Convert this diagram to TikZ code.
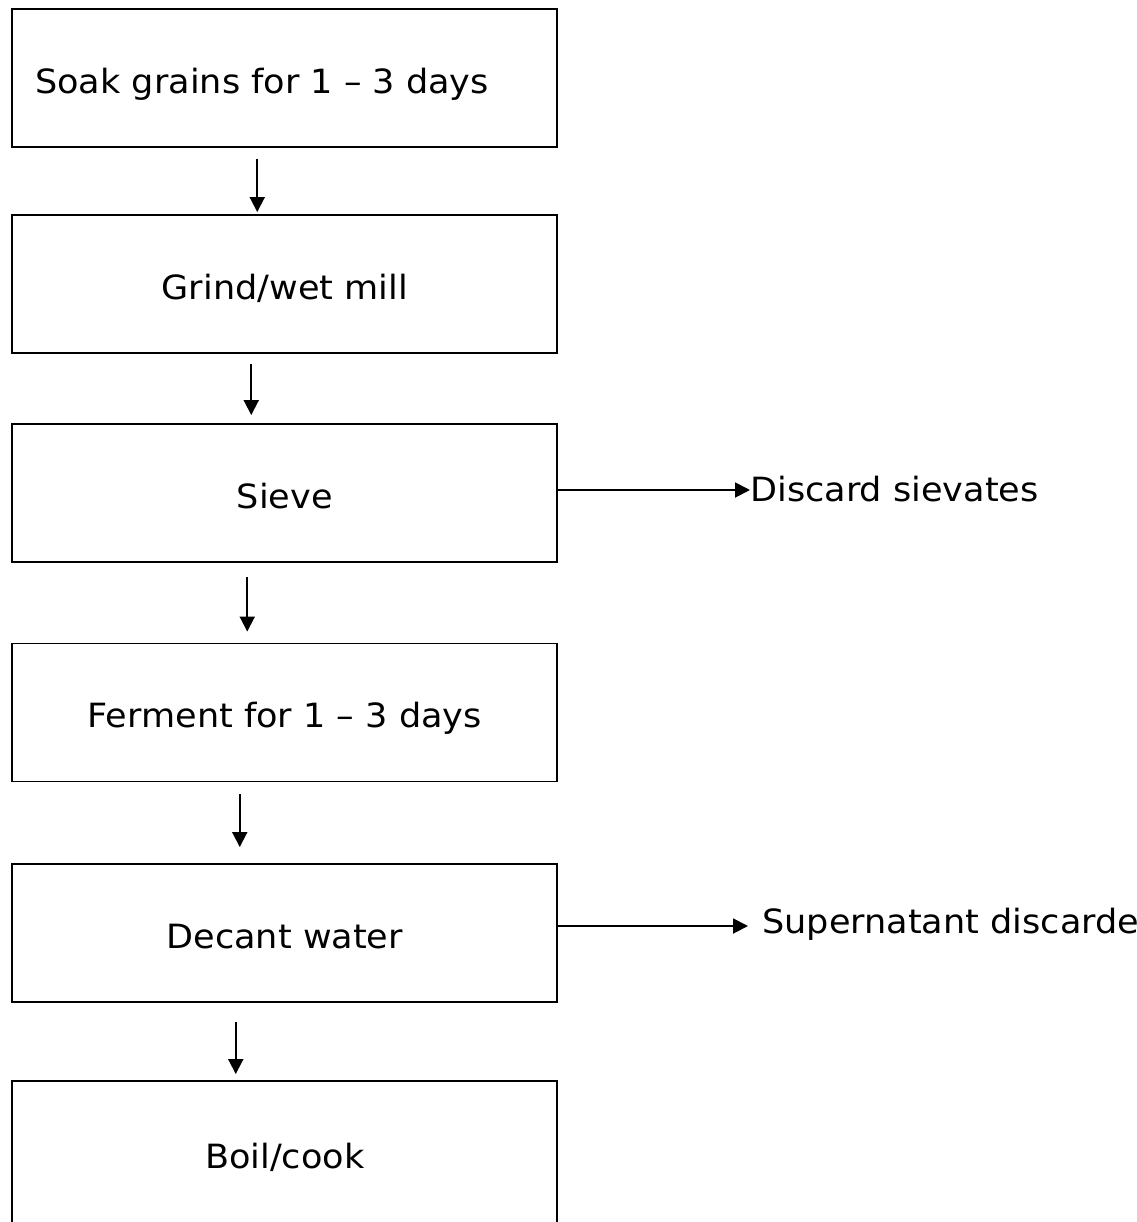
\documentclass[tikz,border=0pt]{standalone}
\usepackage{fontspec}
\setmainfont{DejaVu Sans}[FakeStretch=1.05]
\usepackage{tikz}
\usetikzlibrary{arrows.meta}
\tikzset{stage/.style={draw,line width=1.1pt,minimum width=10.9cm,minimum height=2.76cm,
  inner sep=0pt,text height=.68cm,text depth=.08cm},
flow/.style={-{Triangle[length=3mm,width=3mm]},line width=1.1pt},
sidenote/.style={anchor=base west,inner sep=0pt}}

\begin{document}
\begin{tikzpicture}[font=\fontsize{19}{23}\selectfont]
\useasboundingbox (0,0) rectangle (22.74,-24.44);
\node[stage,text width=9.98cm,align=left,inner xsep=.46cm] (soak) at (5.695,-1.56) {Soak grains for 1 -- 3 days};
\node[stage] (grind) at (5.695,-5.68) {Grind/wet mill};
\node[stage] (sieve) at (5.695,-9.86) {Sieve};
\node[stage] (ferment) at (5.695,-14.25) {Ferment for 1 -- 3 days};
\node[stage] (decant) at (5.695,-18.66) {Decant water};
\node[stage,minimum height=2.88cm] (boil) at (5.695,-23.06) {Boil/cook};
\node[sidenote] (sievates) at (15.0,-10.02) {Discard sievates};
\node[sidenote] (supernat) at (15.24,-18.66) {Supernatant discarded};
% downward flow
\draw[flow] ([xshift=-.55cm,yshift=-.22cm]soak.south) -- ([xshift=-.55cm,yshift=.04cm]grind.north);
\draw[flow] ([xshift=-.67cm,yshift=-.2cm]grind.south) -- ([xshift=-.67cm,yshift=.16cm]sieve.north);
\draw[flow] ([xshift=-.75cm,yshift=-.28cm]sieve.south) -- ([xshift=-.75cm,yshift=.22cm]ferment.north);
\draw[flow] ([xshift=-.9cm,yshift=-.24cm]ferment.south) -- ([xshift=-.9cm,yshift=.32cm]decant.north);
\draw[flow] ([xshift=-.98cm,yshift=-.38cm]decant.south) -- ([xshift=-.98cm,yshift=.12cm]boil.north);
% side outputs
\draw[flow] ([yshift=.06cm]sieve.east) -- ([yshift=.06cm]sieve.east -| sievates.west);
\draw[flow] ([yshift=.14cm]decant.east) -- ([xshift=-.28cm,yshift=.14cm]decant.east -| supernat.west);
\end{tikzpicture}
\end{document}
